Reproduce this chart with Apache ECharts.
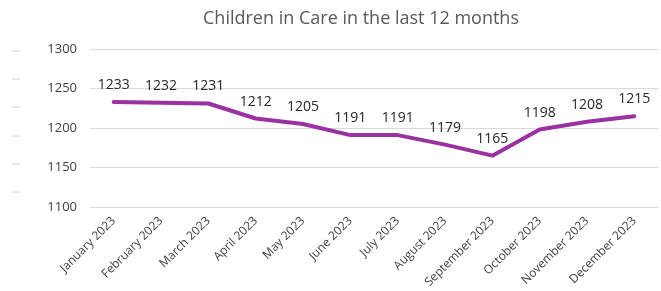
<!DOCTYPE html>
<html>
<head>
<meta charset="utf-8">
<script src="https://cdn.jsdelivr.net/npm/echarts@6/dist/echarts.min.js"></script>
<style>
  html, body { margin: 0; padding: 0; background: #fff; }
  #chart { width: 661px; height: 291px; }
</style>
</head>
<body>
<div id="chart"></div>
<script>
// chart data
const months = [
  "January 2023", "February 2023", "March 2023", "April 2023",
  "May 2023", "June 2023", "July 2023", "August 2023",
  "September 2023", "October 2023", "November 2023", "December 2023",
];
const childrenInCare = [1233, 1232, 1231, 1212, 1205, 1191, 1191, 1179, 1165, 1198, 1208, 1215];
const yTicks = [1100, 1150, 1200, 1250, 1300];

const font = "'Open Sans', 'Noto Sans', sans-serif";

// little grey dashes down the left edge (leftover from the source image)
const dashes = [51, 79, 107, 136, 164, 192].map((y) => ({
  type: "line",
  shape: { x1: 12, y1: y, x2: 20, y2: y },
  style: { stroke: "#d0d0d0", lineWidth: 1 },
}));

const myChart = echarts.init(document.getElementById("chart"));
myChart.setOption({
  animation: false,
  title: {
    text: "Children in Care in the last 12 months",
    left: 356,
    top: 5,
    textAlign: "center",
    textStyle: { fontFamily: font, fontSize: 18, fontWeight: "normal", color: "#595959" },
  },
  graphic: dashes,
  grid: { left: 90, right: 3, top: 49, bottom: 84, containLabel: false },
  xAxis: {
    type: "category",
    data: months,
    boundaryGap: true,
    axisLine: { show: false },
    axisTick: { show: false },
    axisLabel: {
      rotate: 45,
      interval: 0,
      margin: 12,
      fontFamily: font,
      fontSize: 12,
      color: "#404040",
    },
  },
  yAxis: {
    type: "value",
    min: yTicks[0],
    max: yTicks[yTicks.length - 1],
    interval: 50,
    axisLine: { show: false },
    axisTick: { show: false },
    splitLine: { lineStyle: { color: "#d9d9d9", width: 1 } },
    axisLabel: {
      fontFamily: font,
      fontSize: 13,
      color: "#404040",
      margin: 13,
      formatter: (v) => String(v),
    },
  },
  series: [
    {
      type: "line",
      data: childrenInCare,
      symbol: "circle",
      symbolSize: 2,
      showSymbol: true,
      itemStyle: { color: "#9a31a0" },
      lineStyle: { color: "#9a31a0", width: 4, cap: "round" },
      label: {
        show: true,
        position: "top",
        distance: 9,
        fontFamily: font,
        fontSize: 14,
        color: "#262626",
        opacity: 1,
      },
    },
  ],
});
</script>
</body>
</html>
